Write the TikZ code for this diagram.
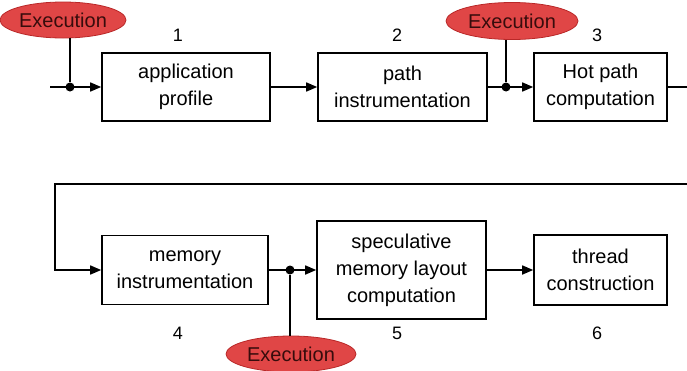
\documentclass[tikz,border=0pt]{standalone}
\usepackage{fontspec}
\setmainfont{Liberation Sans}
\usetikzlibrary{arrows.meta,shapes.geometric}
\definecolor{execred}{RGB}{224,70,70}
\definecolor{execline}{RGB}{185,40,40}
\definecolor{exectext}{RGB}{55,12,12}
\begin{document}
\begin{tikzpicture}[x=1pt,y=-1pt,line width=1.6pt,>={Triangle[length=11pt,width=9pt]},
	block/.style={draw,rectangle,align=center,inner sep=0pt,font=\fontsize{20}{27}\selectfont},
	exec node/.style={ellipse,draw=execline,fill=execred,line width=0.8pt,inner sep=0pt,text=exectext,font=\fontsize{20}{22}\selectfont},
	num/.style={font=\fontsize{18}{20}\selectfont},
	dot/.style={circle,fill,inner sep=0pt,minimum size=9pt}]

		\useasboundingbox (0,0) rectangle (687,370);

		% first row
		\node (1) [block,minimum width=168pt,minimum height=68pt] at (186,87) {application\\profile};
		\node (2) [block,minimum width=169pt,minimum height=68pt] at (402.5,87) {path\\instrumentation};
		\node (3) [block,minimum width=133pt,minimum height=68pt] at (600.5,87) {Hot path\\computation};

		% second row
		\node (4) [block,minimum width=166pt,minimum height=69pt] at (185,270) {memory\\instrumentation};
		\node (5) [block,minimum width=169pt,minimum height=98pt] at (401.5,270) {speculative\\memory layout\\computation};
		\node (6) [block,minimum width=133pt,minimum height=70pt] at (600.5,270) {thread\\construction};

		\node (n1) [num] at (178,35) {1};
		\node (n2) [num] at (397,35) {2};
		\node (n3) [num] at (597,35) {3};
		\node (n4) [num] at (178,333) {4};
		\node (n5) [num] at (397,333) {5};
		\node (n6) [num] at (597,333) {6};

		\node (e1) [exec node,minimum width=126pt,minimum height=36pt] at (63,20) {Execution};
		\node (e2) [exec node,minimum width=132pt,minimum height=37pt] at (512,21) {Execution};
		\node (e3) [exec node,minimum width=130pt,minimum height=36pt] at (291,354) {Execution};

		\coordinate (in) at (50,87);
		\node (d1) [dot] at (70,87) {};
		\node (d2) [dot] at (506,87) {};
		\node (d3) [dot] at (290,270) {};
		\coordinate (out) at (687,87);
		\coordinate (fbr) at (687,184);
		\coordinate (fbl) at (55,184);

		\draw[->] (in) -- (1);
		\draw[->] (1) -- (2);
		\draw[->] (2) -- (3);
		\draw (3) -- (out);
		\draw[->] (fbr) -- (fbl) |- (4);
		\draw[->] (4) -- (5);
		\draw[->] (5) -- (6);

		\draw (d1 |- e1.south) -- (d1);
		\draw (d2 |- e2.south) -- (d2);
		\draw (d3 |- e3.north) -- (d3);

		;
	\end{tikzpicture}
\end{document}
